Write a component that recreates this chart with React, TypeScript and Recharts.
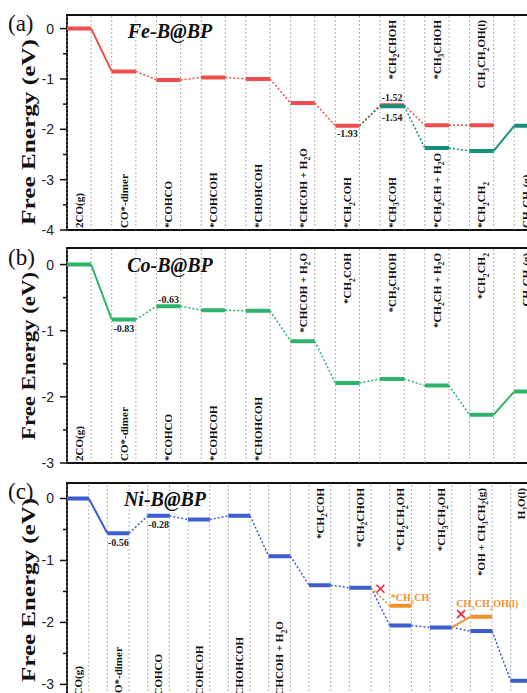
import React from "react"
import { ComposedChart, Line, XAxis, YAxis, ReferenceLine, ReferenceDot, ReferenceArea } from "recharts"

type Level = number | null
type Link = "solid" | "dot" | null

// (a) Fe-B@BP
const feBottom = ["2CO(g)", "CO*-dimer", "*COHCO", "*COHCOH", "*CHOHCOH", "*CHCOH + H2O", "*CH2COH", "*CH3COH", "*CH2CH + H2O", "*CH2CH2", "CH2CH2(g)"]
const feTop: (string | null)[] = [null, null, null, null, null, null, null, "*CH2CHOH", "*CH3CHOH", "CH3CH2OH(l)", null]
const feRed: Level[] = [0, -0.85, -1.02, -0.97, -1.0, -1.48, -1.93, -1.52, -1.92, -1.92, null]
const feRedLinks: Link[] = ["solid", "dot", "dot", "dot", "dot", "dot", "dot", "dot", "dot", null]
const feTeal: Level[] = [null, null, null, null, null, null, -1.93, -1.54, -2.37, -2.43, -1.93]
const feTealLinks: Link[] = [null, null, null, null, null, null, "dot", "dot", "dot", "solid"]

// (b) Co-B@BP
const coBottom: (string | null)[] = ["2CO(g)", "CO*-dimer", "*COHCO", "*COHCOH", "*CHOHCOH", null, null, null, null, null, null]
const coTop: (string | null)[] = [null, null, null, null, null, "*CHCOH + H2O", "*CH2COH", "*CH2CHOH", "*CH2CH + H2O", "*CH2CH2", "CH2CH2(g)"]
const coGreen: Level[] = [0, -0.83, -0.63, -0.69, -0.7, -1.16, -1.79, -1.73, -1.83, -2.27, -1.92]
const coLinks: Link[] = ["solid", "dot", "dot", "dot", "dot", "dot", "dot", "dot", "dot", "solid"]

// (c) Ni-B@BP
const niBottom: (string | null)[] = ["2CO(g)", "CO*-dimer", "*COHCO", "*COHCOH", "*CHOHCOH", "*CHCOH + H2O", null, null, null, null, null, null]
const niTop: (string | null)[] = [null, null, null, null, null, null, "*CH2COH", "*CH2CHOH", "*CH2CH2OH", "*CH3CH2OH", "*OH + CH3CH2(g)", "H2O(l)"]
const niBlue: Level[] = [0, -0.56, -0.28, -0.34, -0.28, -0.93, -1.4, -1.44, -2.05, -2.08, -2.14, -2.94]
const niLinks: Link[] = ["solid", "dot", "dot", "dot", "dot", "dot", "dot", "dot", "dot", "dot", "dot"]
const niOrange: Level[] = [null, null, null, null, null, null, null, -1.44, -1.73, -2.08, -1.91, null]
const niOrangeLinks: Link[] = [null, null, null, null, null, null, null, "dot", null, "solid", null]
const niOrangeOwn = [8, 10]
const niBlocked = [7, 9]
const niOrangeTags = ["*CH2CH", "CH3CH2OH(l)"]

const RED = "#f04d4f"
const TEAL = "#168f7d"
const GREEN = "#2db36a"
const BLUE = "#3d5ed0"
const ORANGE = "#f2902c"
const CROSS = "#e8283c"

const HALF = 0.27
const PLOT_LEFT = 67
const SERIF = "'Liberation Serif', 'Times New Roman', serif"

type Path = { vals: Level[]; links: Link[]; own?: number[]; color: string }
type Note = { vals: Level[]; i: number; dy: number }

function plateauPoints(path: Path) {
  const pts: { x: number; y: number | null }[] = []
  path.vals.forEach((v, i) => {
    if (v == null) return
    if (path.own && !path.own.includes(i)) return
    pts.push({ x: i - HALF, y: v }, { x: i + HALF, y: v }, { x: i + 0.5, y: null })
  })
  return pts
}

function linkPoints(path: Path, kind: Link) {
  const pts: { x: number; y: number | null }[] = []
  path.links.forEach((k, i) => {
    const a = path.vals[i]
    const b = path.vals[i + 1]
    if (k !== kind || a == null || b == null) return
    pts.push({ x: i + HALF, y: a }, { x: i + 1 - HALF, y: b }, { x: i + 1 - HALF, y: null })
  })
  return pts
}

// digits following a letter become subscripts
function chem(s: string, fs: number) {
  const runs: { t: string; sub: boolean }[] = []
  for (let k = 0; k < s.length; k++) {
    const c = s[k]
    const sub = /\d/.test(c) && k > 0 && /[A-Za-z]/.test(s[k - 1])
    const last = runs[runs.length - 1]
    if (last && last.sub === sub) last.t += c
    else runs.push({ t: c, sub })
  }
  const d = fs * 0.3
  return runs.map((r, k) => (
    <tspan key={k} dy={k === 0 ? (r.sub ? d : 0) : r.sub ? d : -d} fontSize={r.sub ? fs * 0.7 : fs}>
      {r.t}
    </tspan>
  ))
}

const renderYTick = (props: any) => {
  const { y, payload } = props
  const v = payload.value as number
  const major = Number.isInteger(v)
  return (
    <g>
      <line x1={PLOT_LEFT - (major ? 7 : 4)} x2={PLOT_LEFT} y1={y} y2={y} stroke="#111" strokeWidth={1.5} />
      {major && (
        <text x={PLOT_LEFT - 13} y={y} dy={5} textAnchor="end" fontFamily="'Liberation Sans', Arial, sans-serif" fontSize={14} fill="#222">
          {v}
        </text>
      )}
    </g>
  )
}

interface PanelProps {
  count: number
  width: number
  height: number
  yDomain: [number, number]
  ticks: number[]
  bottom: (string | null)[]
  top: (string | null)[]
  paths: Path[]
  notes: Note[]
  children?: React.ReactNode
}

function EnergyPanel({ count, width, height, yDomain, ticks, bottom, top, paths, notes, children }: PanelProps) {
  const xMin = -HALF
  const xMax = count - HALF
  const edges: number[] = []
  for (let i = 0; i < count; i++) edges.push(i - HALF, i + HALF)
  const fs = 11

  return (
    <ComposedChart width={width} height={height} margin={{ top: 15, right: 0, bottom: 5, left: 0 }}>
      <XAxis type="number" dataKey="x" domain={[xMin, xMax]} hide allowDataOverflow />
      <YAxis
        type="number"
        domain={yDomain}
        ticks={ticks}
        interval={0}
        width={PLOT_LEFT}
        axisLine={false}
        tickLine={false}
        tick={renderYTick}
        allowDataOverflow
      />
      {edges.map((e, k) => (
        <ReferenceLine key={"g" + k} x={e} stroke="#9c9c9c" strokeDasharray="2 2" strokeWidth={0.8} />
      ))}
      {bottom.map((lab, i) =>
        lab ? (
          <ReferenceDot
            key={"b" + i}
            x={i}
            y={yDomain[0]}
            r={0}
            shape={(sp: any) => (
              <text transform={`translate(${sp.cx + fs * 0.35},${sp.cy - 2}) rotate(-90)`} fontFamily={SERIF} fontWeight="bold" fontSize={fs} fill="#111" textAnchor="start">
                {chem(lab, fs)}
              </text>
            )}
          />
        ) : null
      )}
      {top.map((lab, i) =>
        lab ? (
          <ReferenceDot
            key={"t" + i}
            x={i}
            y={yDomain[1]}
            r={0}
            shape={(sp: any) => (
              <text transform={`translate(${sp.cx + fs * 0.35},${sp.cy + 5}) rotate(-90)`} fontFamily={SERIF} fontWeight="bold" fontSize={fs} fill="#111" textAnchor="end">
                {chem(lab, fs)}
              </text>
            )}
          />
        ) : null
      )}
      {paths.map((p, k) => [
        <Line key={"p" + k} data={plateauPoints(p)} dataKey="y" stroke={p.color} strokeWidth={4} dot={false} activeDot={false} isAnimationActive={false} connectNulls={false} />,
        <Line key={"d" + k} data={linkPoints(p, "dot")} dataKey="y" stroke={p.color} strokeWidth={1.5} strokeDasharray="2 2" dot={false} activeDot={false} isAnimationActive={false} connectNulls={false} />,
        <Line key={"s" + k} data={linkPoints(p, "solid")} dataKey="y" stroke={p.color} strokeWidth={2} dot={false} activeDot={false} isAnimationActive={false} connectNulls={false} />,
      ])}
      {notes.map((n, k) => (
        <ReferenceDot
          key={"n" + k}
          x={n.i}
          y={n.vals[n.i] as number}
          r={0}
          shape={(sp: any) => (
            <text x={sp.cx} y={sp.cy + n.dy} textAnchor="middle" fontFamily={SERIF} fontWeight="bold" fontSize={10} fill="#222">
              {(n.vals[n.i] as number).toFixed(2)}
            </text>
          )}
        />
      ))}
      {children}
      <ReferenceArea x1={xMin} x2={xMax} y1={yDomain[0]} y2={yDomain[1]} fill="none" stroke="#111" strokeWidth={2} />
    </ComposedChart>
  )
}

const ticksA = [0, -0.5, -1, -1.5, -2, -2.5, -3, -3.5, -4]
const ticksBC = [0, -0.5, -1, -1.5, -2, -2.5, -3]

export default function App() {
  return (
    <div style={{ position: "absolute", left: 0, top: 0, width: 527, height: 693, overflow: "hidden", background: "#fff" }}>
      <div style={{ position: "absolute", left: 0, top: 0 }}>
        <EnergyPanel
          count={11}
          width={559}
          height={235}
          yDomain={[-4, 0.27]}
          ticks={ticksA}
          bottom={feBottom}
          top={feTop}
          paths={[
            { vals: feRed, links: feRedLinks, color: RED },
            { vals: feTeal, links: feTealLinks, own: [7, 8, 9, 10], color: TEAL },
          ]}
          notes={[
            { vals: feRed, i: 6, dy: 11 },
            { vals: feRed, i: 7, dy: -4 },
            { vals: feTeal, i: 7, dy: 15 },
          ]}
        />
      </div>
      <div style={{ position: "absolute", left: 0, top: 233 }}>
        <EnergyPanel
          count={11}
          width={559}
          height={235}
          yDomain={[-3, 0.25]}
          ticks={ticksBC}
          bottom={coBottom}
          top={coTop}
          paths={[{ vals: coGreen, links: coLinks, color: GREEN }]}
          notes={[
            { vals: coGreen, i: 1, dy: 12.5 },
            { vals: coGreen, i: 2, dy: -3 },
          ]}
        />
      </div>
      <div style={{ position: "absolute", left: 0, top: 468 }}>
        <EnergyPanel
          count={12}
          width={551}
          height={240}
          yDomain={[-3.3, 0.25]}
          ticks={ticksBC}
          bottom={niBottom}
          top={niTop}
          paths={[
            { vals: niBlue, links: niLinks, color: BLUE },
            { vals: niOrange, links: niOrangeLinks, own: niOrangeOwn, color: ORANGE },
          ]}
          notes={[
            { vals: niBlue, i: 1, dy: 12.5 },
            { vals: niBlue, i: 2, dy: 12.5 },
          ]}
        >
          {niBlocked.map((i) => (
            <ReferenceDot
              key={"x" + i}
              x={i + 0.5}
              y={((niOrange[i] as number) + (niOrange[i + 1] as number)) / 2}
              r={0}
              shape={(sp: any) => (
                <g stroke={CROSS} strokeWidth={1.6}>
                  <line x1={sp.cx - 4} y1={sp.cy - 12} x2={sp.cx + 4} y2={sp.cy - 4} />
                  <line x1={sp.cx - 4} y1={sp.cy - 4} x2={sp.cx + 4} y2={sp.cy - 12} />
                </g>
              )}
            />
          ))}
          <ReferenceDot
            x={niOrangeOwn[0] - HALF}
            y={niOrange[niOrangeOwn[0]] as number}
            r={0}
            shape={(sp: any) => (
              <text transform={`translate(${sp.cx + 1},${sp.cy - 5})`} fontFamily={SERIF} fontWeight="bold" fontSize={10} fill={ORANGE}>
                {chem(niOrangeTags[0], 10)}
              </text>
            )}
          />
          <ReferenceDot
            x={niOrangeOwn[1]}
            y={niOrange[niOrangeOwn[1]] as number}
            r={0}
            shape={(sp: any) => (
              <text transform={`translate(${sp.cx + 6},${sp.cy - 10})`} textAnchor="middle" fontFamily={SERIF} fontWeight="bold" fontSize={10} fill={ORANGE}>
                {chem(niOrangeTags[1], 10)}
              </text>
            )}
          />
        </EnergyPanel>
      </div>
      <svg width={527} height={693} style={{ position: "absolute", left: 0, top: 0, pointerEvents: "none" }}>
        <g fontFamily={SERIF} fontSize={23} fill="#111">
          <text x={8} y={31}>(a)</text>
          <text x={8} y={265}>(b)</text>
          <text x={8} y={499}>(c)</text>
        </g>
        <g fontFamily={SERIF} fontSize={19} fontWeight="bold" fill="#111" textAnchor="middle">
          <text transform="translate(35,132) rotate(-90)" textLength={186} lengthAdjust="spacingAndGlyphs">Free Energy (eV)</text>
          <text transform="translate(35,356) rotate(-90)" textLength={168} lengthAdjust="spacingAndGlyphs">Free Energy (eV)</text>
          <text transform="translate(35,590) rotate(-90)" textLength={184} lengthAdjust="spacingAndGlyphs">Free Energy (eV)</text>
        </g>
        <g fontFamily={SERIF} fontSize={20} fontWeight="bold" fontStyle="italic" fill="#111" textAnchor="middle">
          <text x={170} y={38}>Fe-B@BP</text>
          <text x={170} y={272}>Co-B@BP</text>
          <text x={165} y={506}>Ni-B@BP</text>
        </g>
      </svg>
    </div>
  )
}
